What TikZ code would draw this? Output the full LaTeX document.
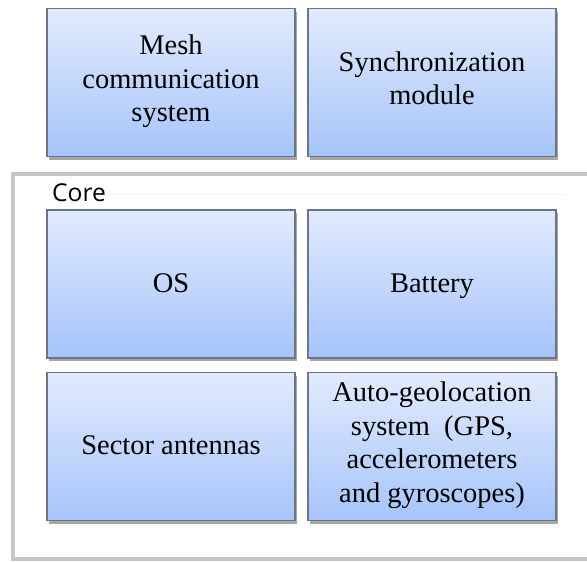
\documentclass[tikz,border=0pt]{standalone}
\usepackage{fontspec}
\setmainfont{Liberation Serif}
\newfontfamily\corefont{Open Sans}
\usetikzlibrary{shadows}
\definecolor{boxtop}{HTML}{E2EBFD}
\definecolor{boxbottom}{HTML}{A6C4FA}
\definecolor{boxline}{HTML}{6A7688}
\def\modstrut{\rule[-4.95pt]{0pt}{19.3pt}}
\tikzset{
	module/.style={draw=boxline, line width=0.9pt, top color=boxtop, bottom color=boxbottom,
		minimum width=4.96cm, minimum height=2.96cm, align=center, inner sep=0pt,
		font=\rmfamily\fontsize{16.2}{19.3}\selectfont,
		execute at begin node=\modstrut, execute at end node=\modstrut,
		drop shadow={shadow xshift=1.3pt, shadow yshift=-1.8pt, opacity=0.35, fill=black}}
}
\begin{document}
\begin{tikzpicture}[x=0.02cm, y=-0.02cm]
		% Fix the page to the size of the picture.
		\useasboundingbox (0,0) rectangle (587,561);
		% Draw the outer core frame, open to the right.
		\draw[line width=2.3pt, color=gray!45] (587,174) -- (13,174) -- (13,559) -- (587,559);
		\draw[color=gray!10] (110,194) -- (565,194);
		\node (core) at (79,193) {\corefont\fontsize{14}{16}\selectfont Core};
	 
		% Modules above the core.
		\node[module] (mesh) at (171,82.5) {Mesh\\communication\\system};
		\node[module] (sync) at (432,82.5) {Synchronization\\module};
	 
		% Modules inside the core.
		\node[module] (os) at (171,284) {OS};
		\node[module] (battery) at (432,284) {Battery};
		\node[module] (antennas) at (171,446.5) {Sector antennas};
		\node[module] (geoloc) at (432,446.5) {Auto-geolocation\\system\ \ (GPS,\\accelerometers\\and gyroscopes)};
	\end{tikzpicture}
\end{document}
